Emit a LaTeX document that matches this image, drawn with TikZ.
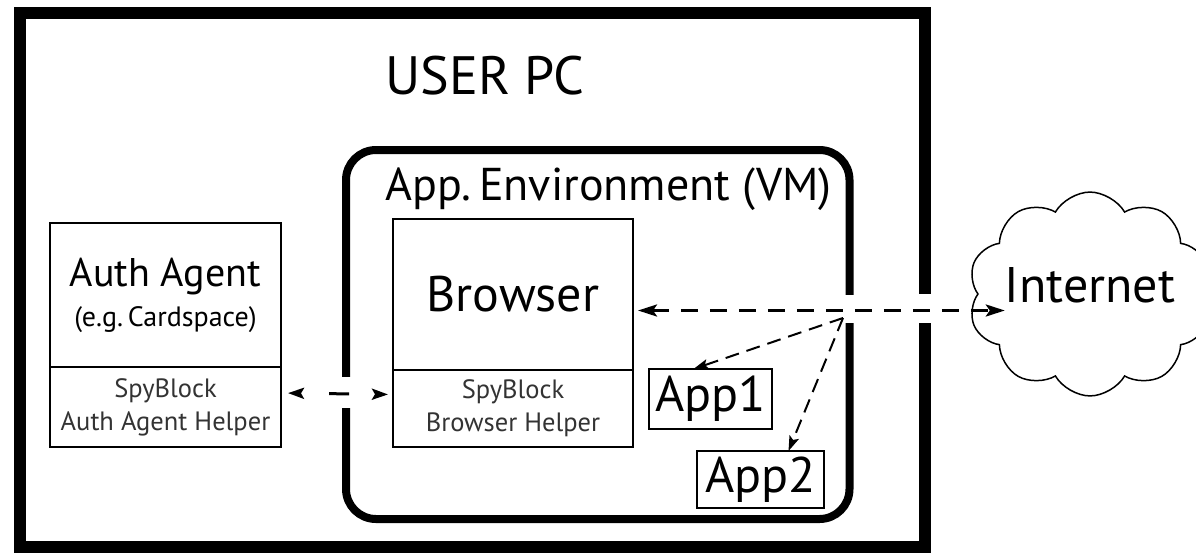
\documentclass[tikz,border=0pt]{standalone}
\usepackage{fontspec}
\setmainfont{PT Sans}
\usetikzlibrary{arrows.meta, calc, positioning, shapes.symbols}
\tikzset{
  pcframe/.style    = {draw, line width=12pt, minimum width=905pt,
                       minimum height=534pt, inner sep=0pt, outer sep=0pt},
  vmframe/.style    = {draw, line width=8pt, rounded corners=30pt,
                       minimum width=503.5pt, minimum height=369pt,
                       inner sep=0pt, outer sep=0pt},
  partbox/.style    = {draw, line width=2.4pt, inner sep=0pt, outer sep=0pt,
                       align=center},
  helperbox/.style  = {partbox, font=\fontsize{26.5}{33}\selectfont,
                       text=black!80},
  appbox/.style     = {draw, line width=2pt, inner sep=0pt, outer sep=0pt,
                       font=\fontsize{50}{50}\selectfont},
  pctitle/.style    = {font=\fontsize{54}{60}\selectfont, inner sep=0pt},
  vmtitle/.style    = {font=\fontsize{46}{48}\selectfont, inner sep=0pt},
  netcloud/.style   = {cloud, draw, line width=1.5pt, cloud puffs=10,
                       cloud puff arc=120, aspect=1.3, minimum width=200pt,
                       minimum height=170pt, inner xsep=-6pt, inner ysep=-1pt,
                       font=\fontsize{50}{50}\selectfont, text depth=18pt},
  gapmask/.style    = {fill=white},
  helperlink/.style = {<->, >={Stealth[length=16pt, width=11pt, inset=3pt]},
                       line width=3pt, dash pattern=on 20pt off 29pt,
                       dash phase=20pt, shorten <=7pt, shorten >=5pt},
  netlink/.style    = {<->, >={Stealth[length=19pt, width=12pt, inset=4pt]},
                       line width=3pt, dash pattern=on 17pt off 12pt,
                       shorten <=5pt},
  applink/.style    = {->, >={Stealth[length=15pt, width=10pt, inset=3pt]},
                       line width=2pt, dash pattern=on 14pt off 8pt},
}
\begin{document}
\begin{tikzpicture}[x=1pt, y=-1pt]
  \useasboundingbox (0,0) rectangle (1196,552);
  \clip (0,0) rectangle (1196,552);
  \node[pcframe] (userpc) at (472,280) {};
  \node[pctitle] (pclabel) at (485,76) {USER PC};
  \node[vmframe] (vm) at (597.75,334.5) {};
  \node[vmtitle, anchor=base] (vmlabel) at (608.5,200) {App.\,Environment (VM)};
  \node[partbox, minimum width=231pt, minimum height=144pt,
        font=\fontsize{40}{36}\selectfont] (authtop) at (165.5,295)
        {Auth Agent\\[4pt]{\fontsize{28}{30}\selectfont(e.g.\,Cardspace)}};
  \node[helperbox, minimum width=231pt, minimum height=80pt] (authhelper)
        at (165.5,407) {SpyBlock\\Auth Agent Helper};
  \node[partbox, minimum width=240pt, minimum height=151pt,
        font=\fontsize{50}{50}\selectfont] (browsertop) at (513,294.5) {Browser};
  \node[helperbox, minimum width=240pt, minimum height=77pt] (browserhelper)
        at (513,408.5) {SpyBlock\\Browser Helper};
  \node[appbox, minimum width=123pt, minimum height=60pt] (app1) at (710.5,399) {App1};
  \node[appbox, minimum width=127pt, minimum height=57pt] (app2) at (760.5,479.5) {App2};
  \node[netcloud] (internet) at (1090,294) {Internet};
  \coordinate (hub) at (843,318);
  \fill[gapmask] (336,377) rectangle (357,408);
  \fill[gapmask] (840,295) rectangle (859,323);
  \fill[gapmask] (910,294) rectangle (940,323);
  \draw[helperlink] ([yshift=14pt]authhelper.east) -- ([yshift=14pt]browserhelper.west);
  \draw[netlink] ([yshift=-16pt]browsertop.east) -- ([yshift=-16pt]browsertop.east -| internet.text);
  \draw[applink] (hub) -- ([xshift=-17pt]app1.north);
  \draw[applink] (hub) -- ([xshift=28pt]app2.north);
\end{tikzpicture}
\end{document}
